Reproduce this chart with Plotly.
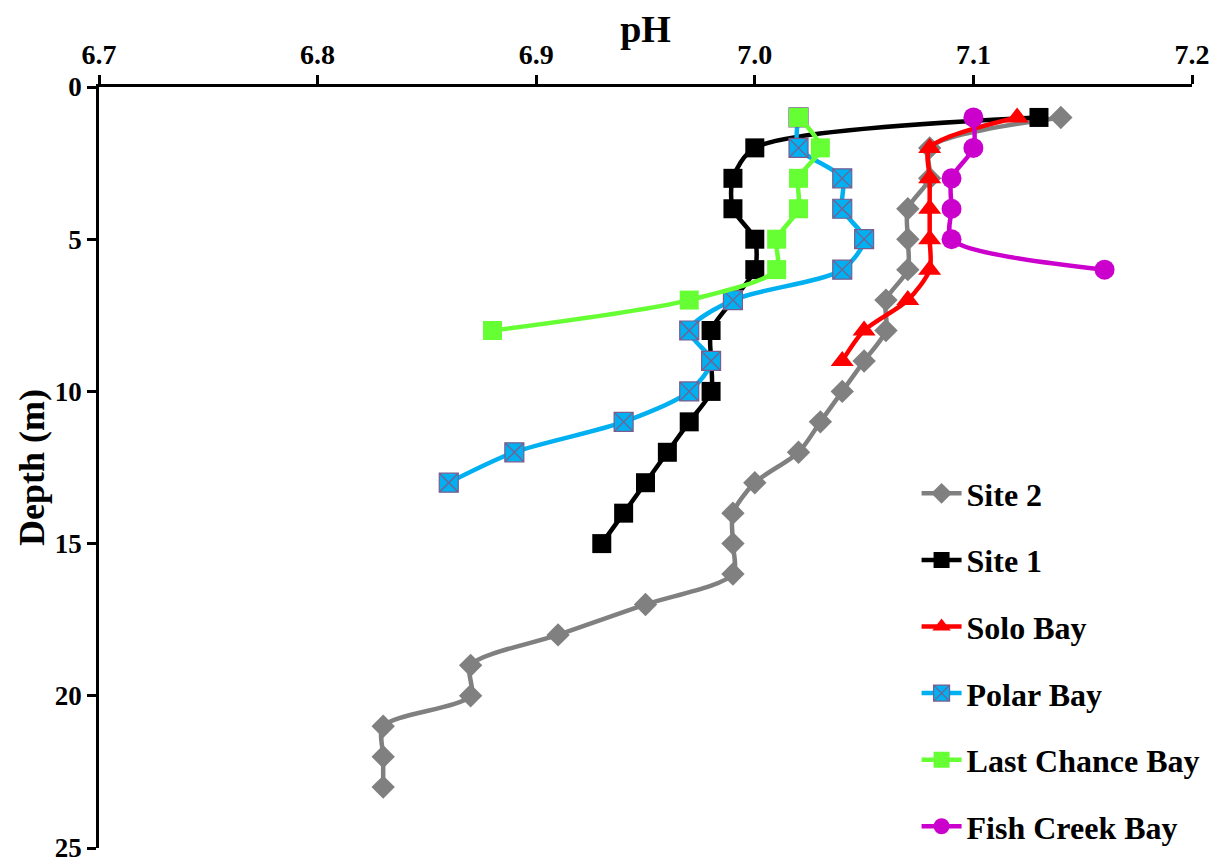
import plotly.graph_objects as go

# ---- data ----
site2_depth = list(range(1, 24))
site2_ph = [7.14, 7.08, 7.08, 7.07, 7.07, 7.07, 7.06, 7.06, 7.05, 7.04, 7.03, 7.02,
            7.00, 6.99, 6.99, 6.99, 6.95, 6.91, 6.87, 6.87, 6.83, 6.83, 6.83]

site1_depth = list(range(1, 16))
site1_ph = [7.13, 7.00, 6.99, 6.99, 7.00, 7.00, 6.99, 6.98, 6.98, 6.98, 6.97, 6.96,
            6.95, 6.94, 6.93]

solo_depth = list(range(1, 10))
solo_ph = [7.12, 7.08, 7.08, 7.08, 7.08, 7.08, 7.07, 7.05, 7.04]

polar_depth = list(range(1, 14))
polar_ph = [7.02, 7.02, 7.04, 7.04, 7.05, 7.04, 6.99, 6.97, 6.98, 6.97, 6.94, 6.89, 6.86]

lastchance_depth = list(range(1, 9))
lastchance_ph = [7.02, 7.03, 7.02, 7.02, 7.01, 7.01, 6.97, 6.88]

fishcreek_depth = list(range(1, 7))
fishcreek_ph = [7.10, 7.10, 7.09, 7.09, 7.09, 7.16]

x_ticks = [6.7, 6.8, 6.9, 7.0, 7.1, 7.2]
y_ticks = [0, 5, 10, 15, 20, 25]

FONT = "Liberation Serif"

series = [
    ("Site 2", site2_ph, site2_depth, "#808080", "diamond", 18, None),
    ("Site 1", site1_ph, site1_depth, "#000000", "square", 19, None),
    ("Solo Bay", solo_ph, solo_depth, "#FF0000", "triangle-up", 20, None),
    ("Polar Bay", polar_ph, polar_depth, "#00B0F0", "square-x", 19, "#7A5C8E"),
    ("Last Chance Bay", lastchance_ph, lastchance_depth, "#66FF33", "square", 19, None),
    ("Fish Creek Bay", fishcreek_ph, fishcreek_depth, "#CC00CC", "circle", 20, None),
]

fig = go.Figure()
for name, xs, ys, col, sym, size, lcol in series:
    fig.add_trace(go.Scatter(
        x=xs, y=ys, name=name, legendgroup=name,
        mode="lines+markers",
        line=dict(color=col, width=4.5, shape="spline", smoothing=0.8),
        marker=dict(symbol=sym, size=size, color=col,
                    line=dict(color=lcol if lcol else col, width=1.2 if lcol else 0)),
    ))

# page has an 8px body margin, so the figure is sized to fit the remaining window
fig.update_layout(
    width=1212, height=855,
    paper_bgcolor="white", plot_bgcolor="white",
    margin=dict(l=91, r=28, t=79, b=15, autoexpand=False),
    font=dict(family=FONT, color="black"),
    showlegend=True,
    legend=dict(x=0.748, y=0.502, xanchor="left", yanchor="top",
                font=dict(family=FONT, size=32, color="black", weight="bold"),
                bgcolor="rgba(0,0,0,0)", tracegroupgap=22, itemwidth=40),
    xaxis=dict(
        side="top", range=[6.7, 7.2], tickvals=x_ticks,
        ticktext=[f"{v:.1f}" for v in x_ticks],
        ticks="outside", ticklen=9, tickwidth=2.5, tickcolor="black",
        showline=True, linewidth=2.5, linecolor="black",
        showgrid=False, zeroline=False,
        tickfont=dict(family=FONT, size=28, weight="bold"),
        ticklabeloverflow="allow",
        title=dict(text="<b>pH</b>", font=dict(family=FONT, size=38), standoff=2),
        automargin=False,
    ),
    yaxis=dict(
        range=[25, 0], tickvals=y_ticks,
        ticks="outside", ticklen=9, tickwidth=2.5, tickcolor="black",
        showline=True, linewidth=2.5, linecolor="black",
        showgrid=False, zeroline=False,
        tickfont=dict(family=FONT, size=27, weight="bold"),
        ticklabeloverflow="allow",
        title=dict(text="<b>Depth (m)</b>", font=dict(family=FONT, size=36), standoff=0),
        automargin=False,
    ),
)

fig.write_html("out.html")
